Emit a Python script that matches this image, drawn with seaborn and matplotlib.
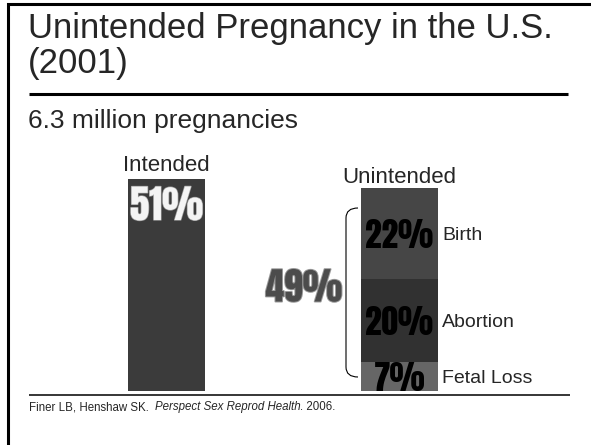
import numpy as np
import pandas as pd
import seaborn as sns
import matplotlib.pyplot as plt
from matplotlib import font_manager
from matplotlib.path import Path
from matplotlib.patches import PathPatch
import matplotlib.patheffects as pe

# ---- data ----
groups = ["Intended", "Unintended"]
intended_pct = 51
outcomes = ["Birth", "Abortion", "Fetal Loss"]
outcome_pct = [22, 20, 7]

intended_color = "#3b3b3b"
outcome_colors = ["#464646", "#313131", "#666666"]

title_lines = ["Unintended Pregnancy in the U.S.", "(2001)"]
subtitle = "6.3 million pregnancies"
source_parts = [("Finer LB, Henshaw SK.", "normal"),
                ("Perspect Sex Reprod Health", "italic"),
                (". 2006.", "normal")]
source_gaps = [6, 0, 0]

# ---- style ----
sns.set_theme(style="white")
plt.rcParams["font.family"] = ["Liberation Sans", "DejaVu Sans"]

installed = {f.name for f in font_manager.fontManager.ttflist}
num_family = "DejaVu Sans"
for cand in ["Anton", "League Gothic", "Oswald", "Fjalla One",
             "Roboto Condensed", "Archivo Narrow"]:
    if cand in installed:
        num_family = cand
        break
num_font = dict(family=[num_family, "DejaVu Sans"], weight="bold")

W, H = 591, 445
fig = plt.figure(figsize=(W / 100, H / 100), dpi=100)

# overlay axes in pixel units for frame, headings and the bracket
ov = fig.add_axes([0, 0, 1, 1])
ov.set_xlim(0, W)
ov.set_ylim(H, 0)
ov.axis("off")

# bar axes
px_per_pct = 4.15
base_px = 391
ymax = 60
ax = fig.add_axes([50 / W, (H - base_px) / H, 466 / W, ymax * px_per_pct / H])

unintended_total = sum(outcome_pct)
tops = np.cumsum(outcome_pct[::-1])[::-1]          # top of each stacked segment
bottoms = tops - np.array(outcome_pct)

layer1 = pd.DataFrame({"group": groups, "pct": [intended_pct, tops[0]]})
sns.barplot(data=layer1, x="group", y="pct", hue="group", order=groups,
            hue_order=groups, palette=[intended_color, outcome_colors[0]],
            width=0.33, saturation=1, dodge=False, legend=False,
            linewidth=0, ax=ax)
for top, color in zip(tops[1:], outcome_colors[1:]):
    layer = pd.DataFrame({"group": ["Unintended"], "pct": [top]})
    sns.barplot(data=layer, x="group", y="pct", order=groups, color=color,
                width=0.33, saturation=1, linewidth=0, ax=ax)

ax.set_xlim(-0.5, 1.5)
ax.set_ylim(0, ymax)
ax.axis("off")

# value labels
ax.text(0, intended_pct - 1.6, f"{intended_pct}%", ha="center", va="top",
        color="#f4f4f4", fontsize=28, **num_font,
        path_effects=[pe.withStroke(linewidth=1.0, foreground="#9a9a9a")])
for name, pct, top, bottom in zip(outcomes, outcome_pct, tops, bottoms):
    mid = (top + bottom) / 2
    ax.text(1, mid, f"{pct}%", ha="center", va="center_baseline",
            color="black", fontsize=24, **num_font)
    ax.text(1.182, mid, name, ha="left", va="center_baseline", fontsize=14)

# group headings
ax.text(0, intended_pct + 1.9, groups[0], ha="center", va="baseline", fontsize=16)
ax.text(1, unintended_total + 1.2, groups[1], ha="center", va="baseline", fontsize=16)

# total for unintended with bracket
ov.text(304, 285, f"{unintended_total}%", ha="center", va="center_baseline",
        color="#4c4c4c", fontsize=27, **num_font,
        path_effects=[pe.withStroke(linewidth=1.4, foreground="#9a9a9a")])
brace = Path([(358, 208), (346, 208), (346, 218), (346, 367), (346, 377), (358, 377)],
             [Path.MOVETO, Path.CURVE3, Path.CURVE3, Path.LINETO, Path.CURVE3, Path.CURVE3])
ov.add_patch(PathPatch(brace, facecolor="none", edgecolor="black", lw=0.8))

# frame and rules
ov.plot([W, 8, 8], [4, 4, H], color="black", lw=2.2, solid_joinstyle="miter")
ov.plot([29, 568], [93.5, 93.5], color="black", lw=2.2, solid_capstyle="butt")
ov.plot([29, 570], [395, 395], color="black", lw=1.1, solid_capstyle="butt")

# headings
ov.text(28, 38, title_lines[0], fontsize=25, va="baseline", ha="left")
ov.text(28, 73, title_lines[1], fontsize=25, va="baseline", ha="left")
ov.text(28, 128, subtitle, fontsize=19, va="baseline", ha="left")

# source line
renderer = fig.canvas.get_renderer()
x = 29
for (s, style), gap in zip(source_parts, source_gaps):
    t = ov.text(x, 410, s, fontsize=8.3, style=style, va="baseline", ha="left")
    x += t.get_window_extent(renderer=renderer).width + gap

fig.savefig("out.png", dpi=100)
